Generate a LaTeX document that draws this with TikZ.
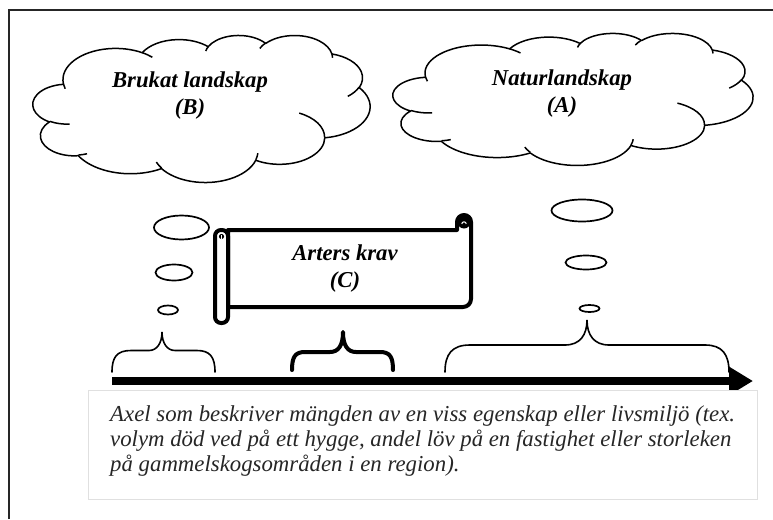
\documentclass[tikz,border=0pt]{standalone}
\usepackage{fontspec}
\setmainfont{Liberation Serif}
\usetikzlibrary{arrows.meta}

% arc with OOXML-style visual angles (wR, hR, start, sweep)
\newcommand\varc[4]{\pgfextra{\pgfmathparse{atan2((#1)*sin(#3),(#2)*cos(#3))}\xdef\vaS{\pgfmathresult}\pgfmathparse{atan2((#1)*sin((#3)+(#4)),(#2)*cos((#3)+(#4)))}\xdef\vaE{\pgfmathresult}\pgfmathparse{\vaS+mod((\vaE)-(\vaS)+720,360)}\xdef\vaE{\pgfmathresult}}arc[x radius=#1,y radius=#2,start angle=\vaS,end angle=\vaE]}

\newcommand\wordcloud[4]{%
 \begin{scope}[shift={(#1,#2)},xscale=#3/432,yscale=#4/432]
 \draw[cloudline,fill=white] (39.00,143.70) \varc{67.53}{91.90}{-190.48748}{123.78053} \varc{53.33}{72.67}{-144.10238}{89.94523} \varc{43.65}{59.45}{-145.80792}{99.72302} \varc{48.57}{65.95}{-130.98607}{117.24173} \varc{53.33}{72.73}{-78.70888}{109.02692} \varc{67.75}{92.20}{-46.26725}{130.269} \varc{57.85}{78.67}{0.62502}{114.03333} \varc{67.52}{92.15}{22.4516}{115.17255} \varc{77.20}{105.43}{66.24263}{75.71102} \varc{43.60}{59.18}{-274.94208}{146.73557} \varc{43.45}{59.45}{-246.8285}{152.5195} -- cycle;
 \draw[cloudline] (46.93,261.77) \varc{43.45}{59.45}{86.742}{26.4295}
   (69.28,348.99) \varc{43.60}{59.18}{73.61047}{11.44747}
   (164.78,390.90) \varc{67.52}{92.15}{137.62415}{14.0811}
   (288.27,347.51) \varc{67.52}{92.15}{6.45327}{15.99835}
   (341.29,229.54) \varc{57.85}{78.67}{-70.29235}{70.91737}
   (417.98,153.54) \varc{53.33}{72.73}{30.31803}{27.7515}
   (383.24,54.26) \varc{48.57}{65.95}{-13.74433}{14.8589}
   (290.78,39.52) \varc{48.57}{65.95}{-149.18145}{18.19537}
   (221.41,47.20) \varc{43.65}{59.45}{-163.49427}{17.68635}
   (140.00,51.92) \varc{67.53}{91.90}{-66.70695}{12.31935}
   (41.27,157.89) \varc{67.53}{91.90}{157.65435}{11.85817};
 \end{scope}}

\begin{document}
\begin{tikzpicture}[x=1pt,y=1pt,yscale=-1,
  cloudline/.style={line width=1.5pt,black,line join=round},
  lbl/.style={font=\fontsize{22.7}{27}\selectfont\bfseries\itshape,align=center,inner sep=0pt},
  desc/.style={font=\fontsize{22.8}{25}\selectfont\itshape,align=left,inner sep=0pt,text=black!85},
  descbox/.style={draw=black!12,line width=0.8pt,fill=white,inner sep=0pt},
  bubble/.style={draw=black,line width=1.7pt,fill=white},
  thinbrace/.style={draw=black,line width=1.6pt,line cap=round},
  thickbrace/.style={draw=black,line width=4pt,line cap=round,line join=round},
  scrollline/.style={draw=black,line width=4pt,line join=round,fill=white},
  axis/.style={line width=8pt,-{Triangle[length=24pt,width=27pt]}}]
\useasboundingbox (0,0) rectangle (773,519);
\fill[white] (0,0) rectangle (773,519);
% outer frame
\draw[line width=2.2pt,black!85] (9,519) -- (9,10) -- (773,10);

% clouds
\wordcloud{33}{35}{337}{147}
\wordcloud{393}{33}{360}{132}
\node[lbl] (B) at (190,96) {Brukat landskap\\(B)};
\node[lbl] (A) at (562,94) {Naturlandskap\\(A)};

% thought bubbles
\draw[bubble] (181.5,227.5) ellipse [x radius=27.5, y radius=12];
\draw[bubble] (174,272.5) ellipse [x radius=18.5, y radius=8];
\draw[bubble] (168,310) ellipse [x radius=10, y radius=4.5];
\draw[bubble] (582,210.5) ellipse [x radius=30.5, y radius=11];
\draw[bubble] (586,262.5) ellipse [x radius=20.5, y radius=7];
\draw[bubble] (589.5,308.5) ellipse [x radius=10, y radius=3.5];

% scroll
\draw[scrollline] (228,230) -- (457,230) -- (457,222)
  arc[start angle=180,end angle=360,radius=7] -- (471,299)
  arc[start angle=0,end angle=90,radius=8] -- (228,307) -- cycle;
\fill[black] (464,222) circle (6.5);
\draw[white,line width=1pt] (461.8,224) arc[start angle=180,end angle=360,radius=2.2];
\draw[scrollline,rounded corners=6] (215,230) rectangle (228,323);
\fill[black] (221.5,236.5) circle (2.6);
\draw[white,line width=0.8pt] (221.5,235) -- (221.5,238.5);
\node[lbl] (C) at (345,269) {Arters krav\\(C)};

% braces
\draw[thinbrace] (112,372) .. controls (112,357) and (117,350.5) .. (131,350.5) -- (149,350.5)
  .. controls (157,350.5) and (162,343) .. (162,332)
  .. controls (162,343) and (167,350.5) .. (175,350.5) -- (197,350.5)
  .. controls (210,350.5) and (215,357) .. (215,372);
\draw[thickbrace] (292,370) .. controls (292,357) and (295,352) .. (305,352) -- (330,352)
  .. controls (338,352) and (343,346) .. (343,332)
  .. controls (343,346) and (348,352) .. (356,352) -- (380,352)
  .. controls (390,352) and (393,357) .. (393,370);
\draw[thinbrace] (445,372) .. controls (445,354) and (452,345) .. (470,345) -- (565,345)
  .. controls (580,345) and (587,335) .. (587,320)
  .. controls (587,335) and (594,345) .. (609,345) -- (705,345)
  .. controls (722,345) and (729,354) .. (729,372);

% axis
\coordinate (axL) at (112,381);
\coordinate (axR) at (753,381);
\draw[axis] (axL) -- (axR);

% description
\node[descbox,anchor=north west,minimum width=669pt,minimum height=109pt] (box) at (88,390) {};
\node[desc,anchor=north west] (desctext) at (110,405) {Axel som beskriver mängden av en viss egenskap eller livsmiljö (tex.\\volym död ved på ett hygge, andel löv på en fastighet eller storleken\\på gammelskogsområden i en region).};
\end{tikzpicture}
\end{document}
